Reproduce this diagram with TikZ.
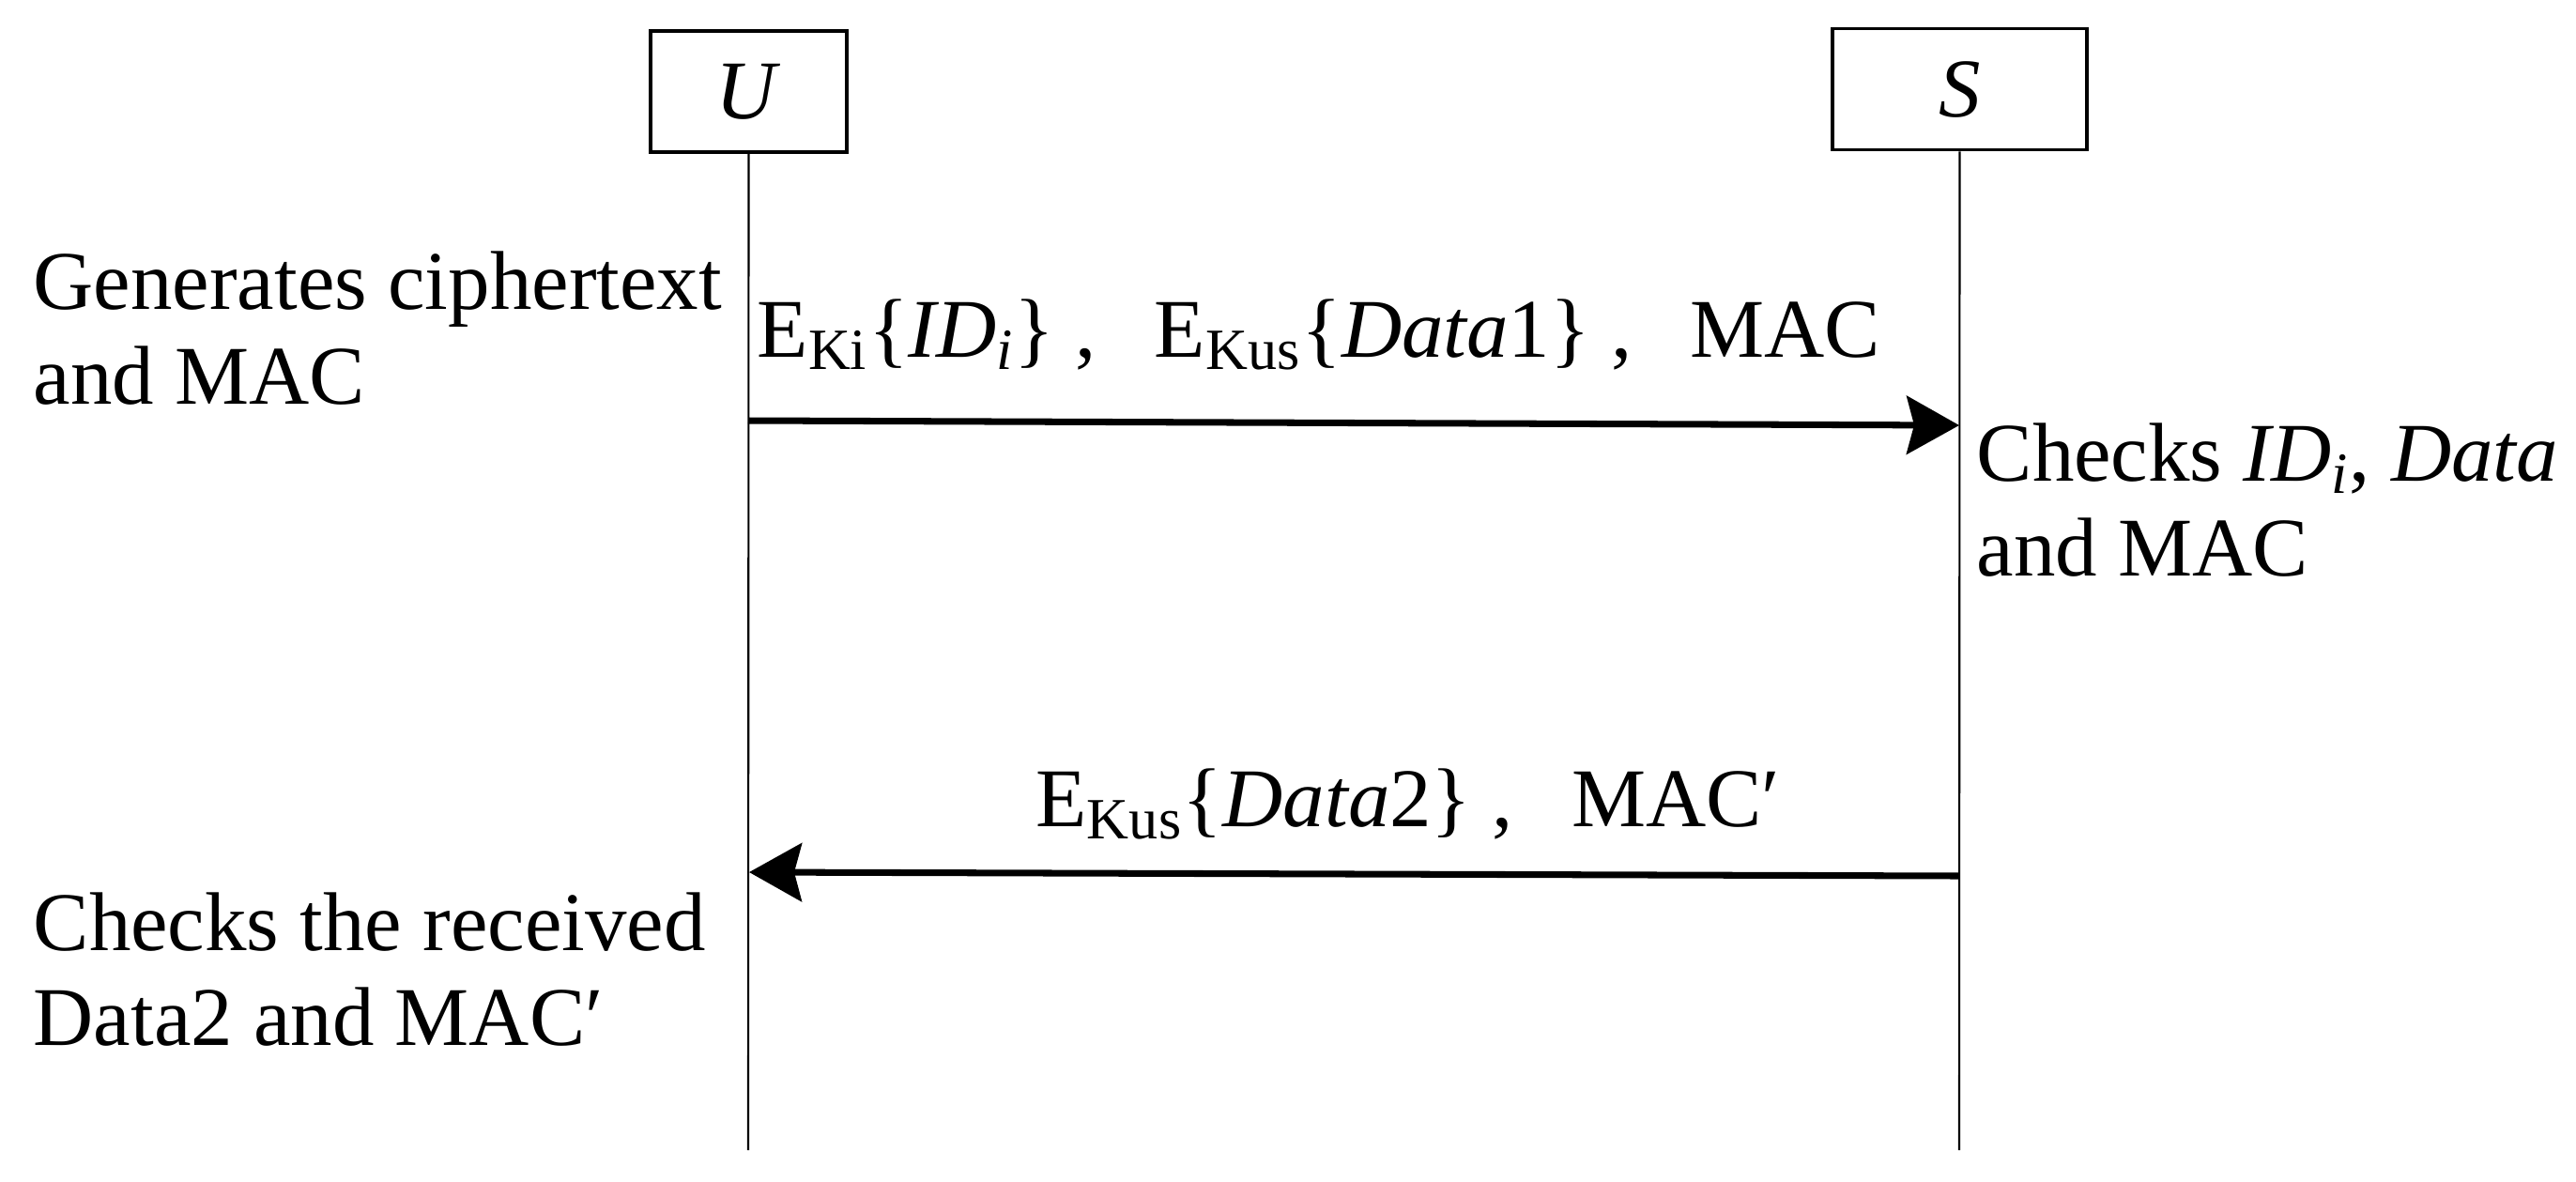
\documentclass[tikz,border=0pt]{standalone}
\usepackage{fontspec}
\setmainfont{Liberation Serif}
\usetikzlibrary{arrows.meta}
\newcommand{\sepcomma}{\hspace{0.25em},\hspace{0.7em}}

\begin{document}
\begin{tikzpicture}[font=\fontsize{25.3}{28.5}\selectfont,
  >={Stealth[length=5.6mm, width=6.2mm, inset=0.8mm]},
  actor/.style={draw, line width=1.1pt, minimum height=1.29cm, inner sep=0pt},
  life/.style={line width=0.6pt},
  msg/.style={->, line width=2pt},
  note/.style={align=left, inner sep=0pt, anchor=base west}]
\useasboundingbox (0,0) rectangle (27.44,-12.58);
\node[actor, minimum width=2.09cm] (uBox) at (7.975,-0.975) {\textit{U}};
\node[actor, minimum width=2.71cm] (sBox) at (20.875,-0.95)  {\textit{S}};
\coordinate (uEnd) at (7.97,-12.25);
\coordinate (sEnd) at (20.87,-12.25);
\draw[life] (uBox.south) -- (uEnd);
\draw[life] (sBox.south) -- (sEnd);
% messages
\coordinate (m1a) at (7.97,-4.48);
\coordinate (m1b) at (20.87,-4.53);
\coordinate (m2a) at (20.87,-9.33);
\coordinate (m2b) at (7.98,-9.29);
\draw[msg] (m1a) -- (m1b);
\draw[msg] (m2a) -- (m2b);
\node[anchor=base] (msgA) at (14.05,-3.80) {E\textsubscript{Ki}\{\textit{ID}\textsubscript{\textit{i}}\}\sepcomma E\textsubscript{Kus}\{\textit{Data}1\}\sepcomma MAC};
\node[anchor=base] (msgB) at (15.00,-8.80) {E\textsubscript{Kus}\{\textit{Data}2\}\sepcomma MAC′};
% notes (base = last line)
\node[note] (genNote) at (0.35,-4.30) {Generates ciphertext\\and MAC};
\node[note] (chkS) at (21.05,-6.13) {Checks \textit{ID}\textsubscript{\textit{i}}, \textit{Data}\\and MAC};
\node[note] (chkU) at (0.35,-11.13) {Checks the received\\Data2 and MAC′};
\end{tikzpicture}
\end{document}
